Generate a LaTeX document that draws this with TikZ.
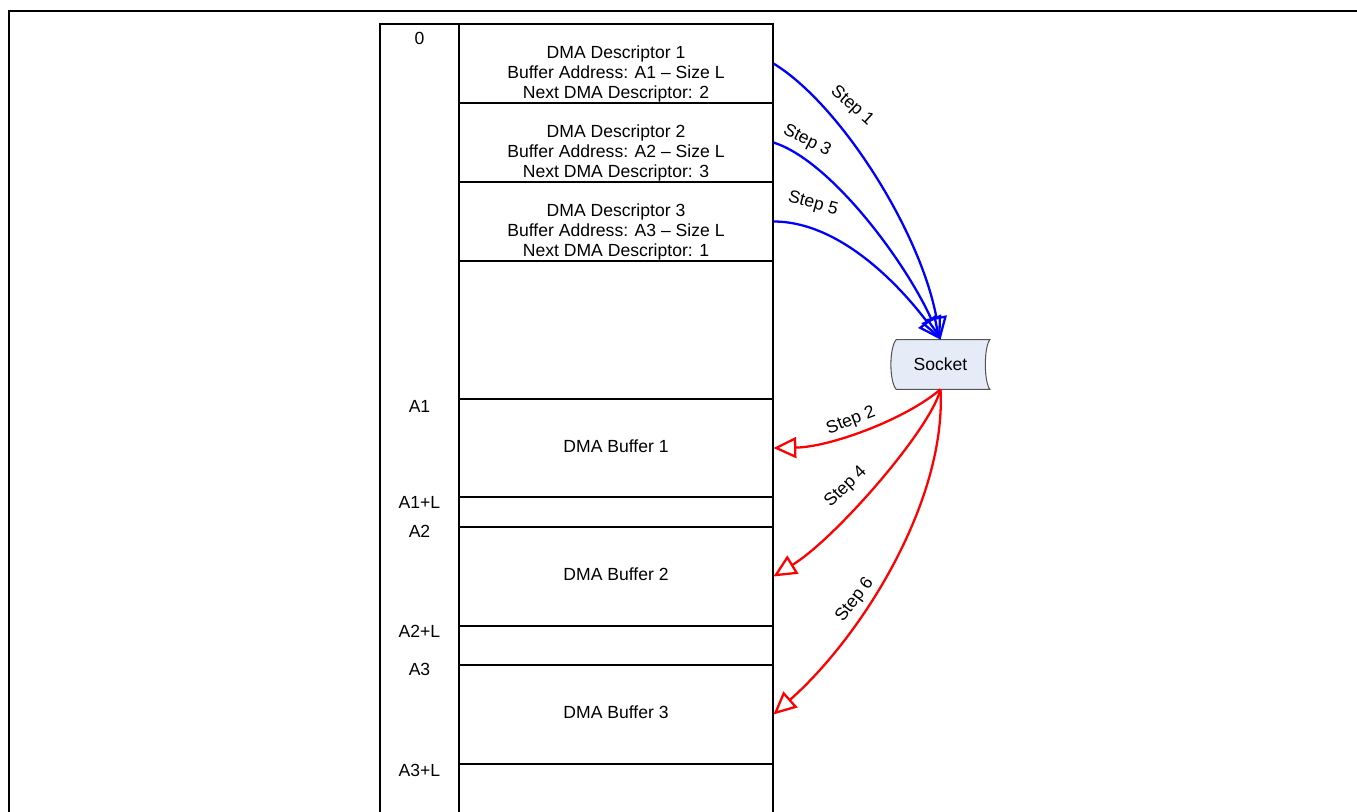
\documentclass[tikz,border=0pt]{standalone}
\usepackage{fontspec}
\setmainfont{Liberation Sans}
\usepackage{xcolor}
\usetikzlibrary{arrows.meta}

\definecolor{sockfill}{RGB}{230,236,247}
\definecolor{sockedge}{RGB}{85,85,85}
\definecolor{stepblue}{RGB}{0,0,255}
\definecolor{stepred}{RGB}{255,0,0}

\tikzset{
  cell/.style={draw,line width=0.6pt,minimum width=6.28cm,inner sep=0pt},
  celltext/.style={font=\fontsize{10}{11.4}\selectfont,align=center,inner sep=0pt},
  addr/.style={font=\fontsize{10}{12}\selectfont,inner sep=0pt},
  steplbl/.style={font=\fontsize{10}{12}\selectfont,inner sep=1pt},
  fetch/.style={->,line width=1.3pt,stepblue},
  store/.style={->,line width=1.3pt,stepred}
}

\begin{document}
\begin{tikzpicture}[x=0.02cm,y=-0.02cm,>={Triangle[open,length=13pt,width=12pt]}]
\useasboundingbox (0,0) rectangle (1357,812);
% frame
\draw[line width=1.5pt] (9,812)--(9,11)--(1357,11);
% memory columns
\draw[line width=0.6pt] (380,812)--(380,24)--(459,24);
\draw[line width=0.6pt] (459,812)--(459,24)--(773,24)--(773,812);
% descriptors
\node[cell,minimum height=1.58cm] (d1) at (616,63.5) {};
\node[cell,minimum height=1.58cm] (d2) at (616,142.5) {};
\node[cell,minimum height=1.58cm] (d3) at (616,221.5) {};
\node[celltext] (t1) at (616,73.5) {DMA Descriptor 1\\Buffer Address: A1 -- Size L\\Next DMA Descriptor: 2};
\node[celltext] (t2) at (616,153) {DMA Descriptor 2\\Buffer Address: A2 -- Size L\\Next DMA Descriptor: 3};
\node[celltext] (t3) at (616,232) {DMA Descriptor 3\\Buffer Address: A3 -- Size L\\Next DMA Descriptor: 1};
% buffers
\node[cell,minimum height=1.96cm] (b1) at (616,448) {};
\node[cell,minimum height=1.98cm] (b2) at (616,576.5) {};
\node[cell,minimum height=1.98cm] (b3) at (616,714.5) {};
\node[celltext] (u1) at (616,446) {DMA Buffer 1};
\node[celltext] (u2) at (616,574) {DMA Buffer 2};
\node[celltext] (u3) at (616,712) {DMA Buffer 3};
% addresses
\draw (419.5,38.5)node[addr]{0}
(419.5,406)node[addr]{A1}
(419.5,502)node[addr]{A1+L}
(419.5,531)node[addr]{A2}
(419.5,631)node[addr]{A2+L}
(419.5,669)node[addr]{A3}
(419.5,770)node[addr]{A3+L};
% socket
\node[minimum width=1.86cm,minimum height=0.98cm,inner sep=0pt] (sock) at (943,364.5) {};
\filldraw[fill=sockfill,draw=sockedge,line width=0.6pt]
  (sock.north west) -- (sock.north east) .. controls +(-6,8) and +(-6,-8) .. (sock.south east)
  -- (sock.south west) .. controls +(-7,-8) and +(-7,8) .. (sock.north west) -- cycle;
\node[steplbl] (socktxt) at ([xshift=-0.05cm]sock) {Socket};
\coordinate (sin) at ([xshift=-0.05cm]sock.north);
\coordinate (sout) at ([xshift=-0.05cm]sock.south);
% descriptor fetches
\draw[fetch] (d1.east) .. controls +(67,41) and +(-20,-108) .. (sin);
\draw[fetch] (d2.east) .. controls +(57,18) and +(-35,-78) .. (sin);
\draw[fetch] (d3.east) .. controls +(67,0) and +(-40,-53) .. (sin);
% buffer writes
\draw[store] (sout) .. controls +(-35,30) and +(57,-1) .. (b1.east);
\draw[store] (sout) .. controls +(-10,40) and +(62,-38) .. (b2.east);
\draw[store] (sout) .. controls +(6,110) and +(90,-80) .. (b3.east);
% step labels
\node[steplbl,rotate=-42] (s1) at (852,106) {Step 1};
\node[steplbl,rotate=-27] (s3) at (807,141) {Step 3};
\node[steplbl,rotate=-15] (s5) at (813,204) {Step 5};
\node[steplbl,rotate=21] (s2) at (851,421) {Step 2};
\node[steplbl,rotate=44] (s4) at (846,487) {Step 4};
\node[steplbl,rotate=53] (s6) at (855,600) {Step 6};
\end{tikzpicture}
\end{document}
